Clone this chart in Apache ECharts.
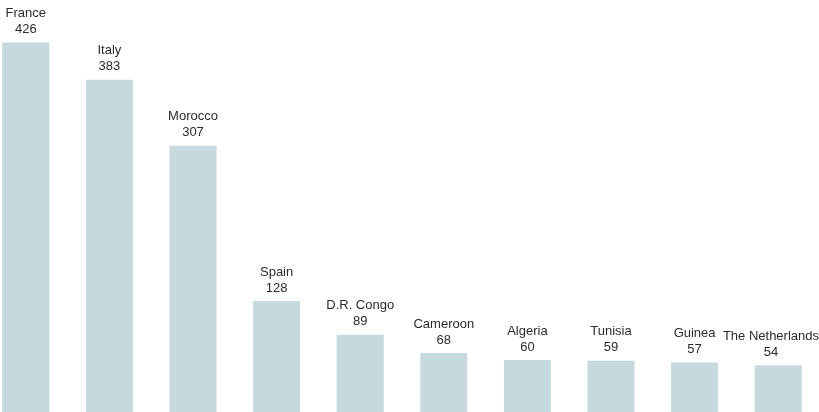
<!DOCTYPE html>
<html>
<head>
<meta charset="utf-8">
<style>
  html, body { margin: 0; padding: 0; background: #ffffff; overflow: hidden; }
  #wrap { width: 819px; height: 412px; overflow: hidden; position: relative; }
  /* the plot is a little wider than the page so the first bar sits near the left edge */
  #chart { position: absolute; left: -16px; top: 0; width: 836px; height: 412px; }
</style>
<script src="https://cdn.jsdelivr.net/npm/echarts@6/dist/echarts.min.js"></script>
</head>
<body>
<div id="wrap"><div id="chart"></div></div>
<script>
// Countries and their values, in display order
const countries = ['France', 'Italy', 'Morocco', 'Spain', 'D.R. Congo', 'Cameroon', 'Algeria', 'Tunisia', 'Guinea', 'The Netherlands'];
const values = [426, 383, 307, 128, 89, 68, 60, 59, 57, 54];

const VISIBLE_RIGHT = 16 + 819; // right edge of the page in canvas coordinates

const chart = echarts.init(document.getElementById('chart'), null, { renderer: 'canvas' });

chart.setOption({
  animation: false,
  backgroundColor: '#ffffff',
  grid: { left: 0, right: 0, top: 0, bottom: -2, containLabel: false },
  xAxis: {
    type: 'category',
    data: countries,
    show: false
  },
  yAxis: {
    type: 'value',
    min: 0,
    max: 475,
    show: false
  },
  series: [{
    type: 'bar',
    data: values,
    barWidth: 47,
    itemStyle: { color: '#c6d9dd' },
    label: {
      show: true,
      position: 'top',
      distance: 5,
      formatter: '{b}\n{c}',
      color: '#2b2b2b',
      fontFamily: 'Liberation Sans, Arial, sans-serif',
      fontSize: 13,
      lineHeight: 16,
      align: 'center'
    },
    // keep labels inside the page on the right side
    labelLayout: function (params) {
      const r = params.labelRect;
      const over = r.x + r.width - VISIBLE_RIGHT;
      return over > 0 ? { dx: -over } : {};
    }
  }]
});
</script>
</body>
</html>
